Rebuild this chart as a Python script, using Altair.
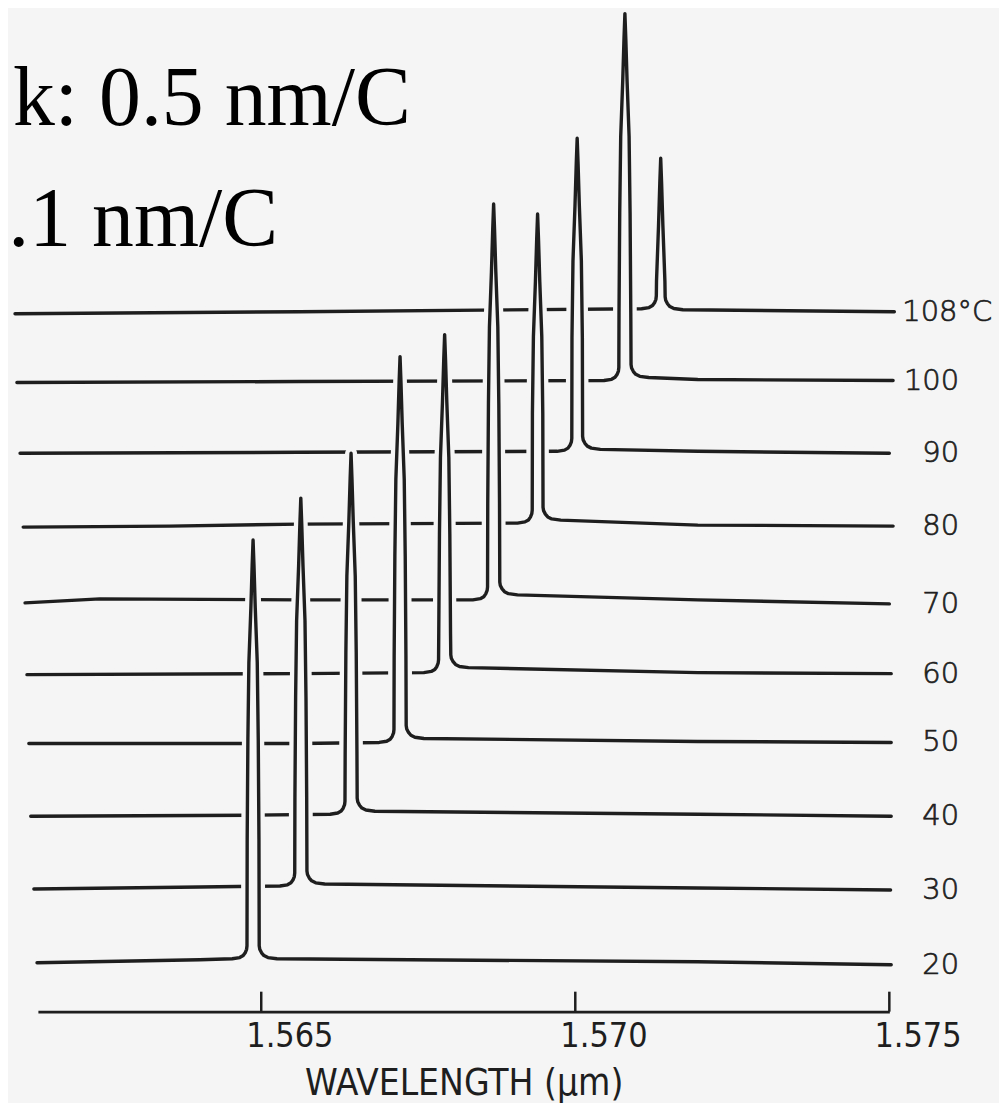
import altair as alt
import pandas as pd

# ---------------- data ----------------
TEMPS = [108, 100, 90, 80, 70, 60, 50, 40, 30, 20]          # back -> front
LABELS = ["108°C", "100", "90", "80", "70", "60", "50", "40", "30", "20"]
PEAK_UM = [1.57136, 1.57079, 1.57003, 1.56940, 1.56870,
           1.56792, 1.56721, 1.56643, 1.56563, 1.56487]     # peak wavelength (um)
PEAK_TOP = [856, 1001, 876, 800, 810, 679, 657, 560, 515, 473]  # peak level (a.u.)
FOOT_LEFT = [705, 633, 562, 490, 413, 340, 270, 198, 126, 53]   # baseline level left of peak
FOOT_RIGHT = [704, 636, 564, 493, 418, 345, 274, 201, 128, 53]  # baseline level right of peak

# baseline knots (wavelength um, level a.u.) left and right of each peak
BASE_LEFT = [
    [(1.56108, 700), (1.56560, 702)],
    [(1.56111, 631), (1.56560, 632)],
    [(1.56116, 560), (1.56560, 561)],
    [(1.56121, 486), (1.56354, 487), (1.56560, 489)],
    [(1.56124, 410), (1.56243, 414), (1.56560, 413)],
    [(1.56127, 338), (1.56560, 339)],
    [(1.56130, 269), (1.56560, 269)],
    [(1.56133, 196), (1.56481, 197)],
    [(1.56138, 123), (1.56402, 125)],
    [(1.56143, 49), (1.56402, 52)],
]
BASE_RIGHT = [
    [(1.57508, 702)],
    [(1.57195, 634), (1.57506, 633)],
    [(1.57195, 562), (1.57500, 560)],
    [(1.57195, 488), (1.57506, 487)],
    [(1.57195, 413), (1.57500, 409)],
    [(1.57195, 340), (1.57503, 339)],
    [(1.57195, 271), (1.57503, 270)],
    [(1.57195, 198), (1.57503, 196)],
    [(1.57195, 124), (1.57502, 122)],
    [(1.57195, 50), (1.57503, 47)],
]

# common line shape of a peak
SPIKE_DEPTH = [0, 25, 68, 123, 200, 300, 420]                   # a.u. below the tip
SPIKE_HALF_NM = [0.0, 0.0143, 0.0349, 0.0667, 0.0825, 0.0937, 0.1016]  # half width (nm)
FOOT_L_EXTRA_NM = [0.003, 0.0095, 0.0317, 0.0635, 0.119, 0.238]  # beyond the spike side
FOOT_R_EXTRA_NM = [0.004, 0.0127, 0.0413, 0.0794, 0.143, 0.286]
FOOT_RISE = [13, 9.5, 6, 3.2, 1.2, 0]

TICKS = [1.565, 1.570, 1.575]
TICK_LABELS = ["1.565", "1.570", "1.575"]

# ---------------- build tables ----------------
rows = []
for i, t in enumerate(TEMPS):
    pk, top, fl, fr = PEAK_UM[i], PEAK_TOP[i], FOOT_LEFT[i], FOOT_RIGHT[i]
    pts = []
    for x, y in BASE_LEFT[i]:
        pts.append((x, y, y))
    left = [(d, w) for d, w in zip(SPIKE_DEPTH, SPIKE_HALF_NM) if d < top - fl - 16]
    wl_last = left[-1][1]
    for ex, r in zip(FOOT_L_EXTRA_NM[::-1], FOOT_RISE[::-1]):
        pts.append((pk - (wl_last + ex) / 1000, fl + r, fl))
    for d, w in left[::-1]:
        if d == 0:
            continue
        pts.append((pk - w / 1000, top - d, fl))
    pts.append((pk, top, (fl + fr) / 2))
    right = [(d, w) for d, w in zip(SPIKE_DEPTH, SPIKE_HALF_NM) if d < top - fr - 16]
    for d, w in right:
        if d == 0:
            continue
        pts.append((pk + w / 1000, top - d, fr))
    wr_last = right[-1][1]
    for ex, r in zip(FOOT_R_EXTRA_NM, FOOT_RISE):
        pts.append((pk + (wr_last + ex) / 1000, fr + r, fr))
    for x, y in BASE_RIGHT[i]:
        pts.append((x, y, y))
    for k, (x, y, b) in enumerate(pts):
        rows.append({"temp": t, "wl": x, "sig": y, "base": b, "k": k})
df = pd.DataFrame(rows)

lab = pd.DataFrame({
    "label": LABELS,
    "wl": [1.575] * len(LABELS),
    "sig": [BASE_RIGHT[i][-1][1] for i in range(len(LABELS))],
})
tick_df = pd.DataFrame({"wl": TICKS, "label": TICK_LABELS})

# ---------------- chart ----------------
W, H = 854, 1005
BG = "#f5f5f5"
INK = "#1e1e1e"
NARROW = "Liberation Sans Narrow, DejaVu Sans Condensed, Liberation Sans"

xs = alt.Scale(domain=[1.5614444, 1.575], nice=False, zero=False)
ys = alt.Scale(domain=[0, 1005], nice=False, zero=False)

xaxis = alt.Axis(values=TICKS, ticks=False, grid=False, labels=False,
                 domainColor=INK, domainWidth=2.6,
                 title="WAVELENGTH (μm)", titleFont=NARROW,
                 titleFontSize=37, titleFontWeight="normal", titleColor=INK,
                 titlePadding=54)

X = alt.X("wl:Q", scale=xs, axis=xaxis)
Y = alt.Y("sig:Q", scale=ys, axis=None)

layers = []
for i, t in enumerate(TEMPS):
    base = alt.Chart(df).transform_filter(alt.datum.temp == t)
    layers.append(base.mark_area(color=BG).encode(
        x=X, y=Y, y2="base:Q", order="k:Q"))
    layers.append(base.mark_line(color=BG, strokeWidth=12, strokeJoin="round").encode(
        x=X, y=Y, order="k:Q"))
    layers.append(base.mark_line(color=INK, strokeWidth=3.4,
                                 strokeCap="round", strokeJoin="round").encode(
        x=X, y=Y, order="k:Q"))

ticks = alt.Chart(tick_df).mark_rule(color=INK, strokeWidth=2.5).encode(
    x=X, y=alt.value(H), y2=alt.value(H - 20))
tick_text = alt.Chart(tick_df).mark_text(
    align="left", baseline="top", dx=-15, dy=8, font=NARROW, fontSize=34,
    color=INK).encode(x=X, y=alt.value(H), text="label:N")

lab_first = alt.Chart(lab.iloc[:1]).mark_text(
    align="left", baseline="middle", dx=13, font="DejaVu Sans", fontSize=29,
    fontWeight=200, color=INK, stroke=INK, strokeWidth=0.7).encode(x=X, y=Y, text="label:N")
lab_rest = alt.Chart(lab.iloc[1:]).mark_text(
    align="right", baseline="middle", dx=70, font="DejaVu Sans", fontSize=29,
    fontWeight=200, color=INK, stroke=INK, strokeWidth=0.7).encode(x=X, y=Y, text="label:N")

note1 = alt.Chart(pd.DataFrame({"t": ["k: 0.5 nm/C"]})).mark_text(
    align="right", baseline="alphabetic", font="Liberation Serif", fontSize=84,
    color="#000000").encode(text="t:N", x=alt.value(374), y=alt.value(116))
note2 = alt.Chart(pd.DataFrame({"t": [".1 nm/C"]})).mark_text(
    align="right", baseline="alphabetic", font="Liberation Serif", fontSize=84,
    color="#000000").encode(text="t:N", x=alt.value(241), y=alt.value(237))

chart = alt.layer(*layers, ticks, tick_text, lab_first, lab_rest, note1, note2).properties(
    width=W, height=H,
    padding={"left": 30, "top": 0, "right": 110, "bottom": 90},
    autosize=alt.AutoSizeParams(type="none"),
    background=BG,
).configure_view(stroke=None)

chart.save("out.html", embed_options={"renderer": "svg", "actions": False})
